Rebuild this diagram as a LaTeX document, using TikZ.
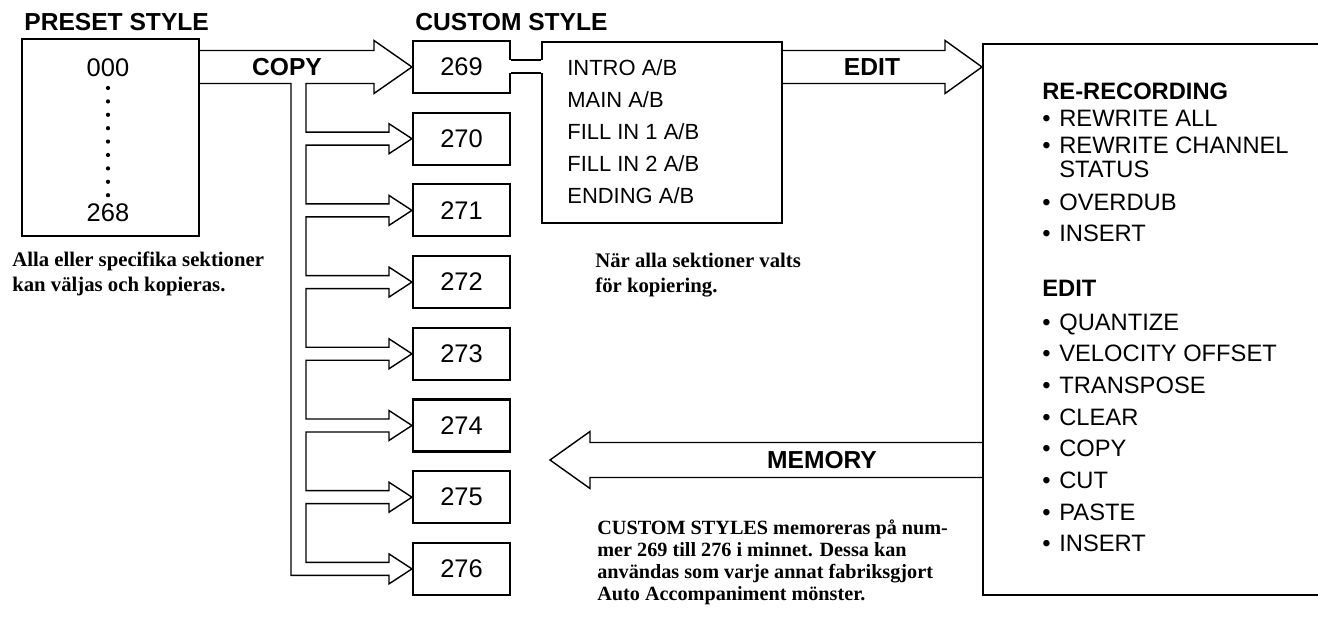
\documentclass[tikz,border=0pt]{standalone}
\usepackage{fontspec}
\setmainfont{Liberation Serif}
\setsansfont{Liberation Sans}
\usetikzlibrary{calc}

\begin{document}
\begin{tikzpicture}[
  x=0.02cm, y=-0.02cm,
  box/.style={rectangle, draw, line width=1.2pt, inner sep=0pt,
    font=\sffamily\fontsize{14.5}{16}\selectfont},
  numbox/.style={box, minimum width=1.94cm, minimum height=1.04cm},
  title/.style={font=\sffamily\bfseries\fontsize{14}{16}\selectfont, inner sep=0pt},
  item/.style={font=\sffamily\fontsize{13.5}{15}\selectfont, anchor=base west, inner sep=0pt},
  head/.style={font=\sffamily\bfseries\fontsize{13.5}{15}\selectfont, anchor=base west, inner sep=0pt},
  note/.style={font=\bfseries\fontsize{11.8}{14.2}\selectfont, align=left, anchor=west, inner sep=0pt},
  bigarrow/.style={draw, line width=0.8pt, line join=miter}
]
  \useasboundingbox (0,0) rectangle (1318,617);

  % preset side
  \node[title, anchor=west] (presettitle) at (24,22) {PRESET STYLE};
  \node[box, minimum width=3.54cm, minimum height=3.94cm] (preset) at (110.5,137.5) {};
  \node[font=\sffamily\fontsize{14.5}{16}\selectfont, inner sep=0pt] (first) at (108,68) {000};
  \node[font=\sffamily\fontsize{14.5}{16}\selectfont, inner sep=0pt] (last) at (108,213) {268};
  \foreach \i in {0,...,8}
    \fill ($(first)+(0,20+13.4*\i)$) circle (1.2pt);

  % custom styles
  \node[title, anchor=west] (customtitle) at (415,22) {CUSTOM STYLE};
  \node[numbox] (c269) at (461.5,67) {269};
  \foreach \k in {1,...,7} {
    \pgfmathtruncatemacro\n{269+\k}
    \node[numbox] (c\n) at (461.5,67+71.7*\k) {\n};
  }

  \node[box, minimum width=4.8cm, minimum height=3.62cm] (sections) at (662,132.5) {};
  \node[font=\sffamily\fontsize{12.5}{18.2}\selectfont, align=left, anchor=west, inner sep=0pt]
    (sectionlist) at (567,132) {INTRO A/B\\MAIN A/B\\FILL IN 1 A/B\\FILL IN 2 A/B\\ENDING A/B};

  % neck between 269 and the sections
  \fill[white] ($(c269.east)+(-3,-7)$) rectangle ($(sections.west |- c269.east)+(3,6)$);
  \draw[line width=1.2pt] ($(c269.east)+(-0.5,-7)$) -- ($(sections.west |- c269.east)+(0.5,-7)$)
    ($(c269.east)+(-0.5,6)$) -- ($(sections.west |- c269.east)+(0.5,6)$);

  % edit side
  \node[draw, line width=1.2pt, minimum width=7.4cm, minimum height=11.02cm, anchor=north west]
    (editbox) at (982,43) {};
  \node[head] (rerec) at (1042,100) {RE-RECORDING};
  \node[head] (edithead) at (1042,297) {EDIT};
  \foreach \y/\t in {118/REWRITE ALL, 145/REWRITE CHANNEL, 202/OVERDUB, 233/INSERT,
      322/QUANTIZE, 353/VELOCITY OFFSET, 385/TRANSPOSE, 417/CLEAR,
      448/COPY, 480/CUT, 512/PASTE, 543/INSERT}
    \node[item] (opt\y) at (1042,\y+8.5) {\makebox[0.34cm][l]{•}\t};
  \node[item] (status) at (1059,177.5) {STATUS};

  % copy arrows
  \draw[bigarrow]
    ($(preset.east |- c269.west)+(0,-16.5)$) -- ($(c269.west)+(-38,-16.5)$)
    -- ($(c269.west)+(-38,-26.5)$) -- (c269.west) -- ($(c269.west)+(-38,26.5)$)
    -- ($(c269.west)+(-38,16.5)$) -- ($(c269.west)+(-106,16.5)$)
    \foreach \n in {270,...,275} {
      -- ($(c\n.west)+(-106,-6.5)$) -- ($(c\n.west)+(-23,-6.5)$) -- ($(c\n.west)+(-23,-15)$)
      -- (c\n.west) -- ($(c\n.west)+(-23,15)$) -- ($(c\n.west)+(-23,6.5)$) -- ($(c\n.west)+(-106,6.5)$)
    }
    -- ($(c276.west)+(-106,-6.5)$) -- ($(c276.west)+(-23,-6.5)$) -- ($(c276.west)+(-23,-15)$)
    -- (c276.west) -- ($(c276.west)+(-23,15)$) -- ($(c276.west)+(-23,6.5)$) -- ($(c276.west)+(-121,6.5)$)
    -- ($(c269.west)+(-121,16.5)$) -- ($(preset.east |- c269.west)+(0,16.5)$);
  \node[title] (copylabel) at (287,67) {COPY};

  % edit arrow
  \draw[bigarrow]
    ($(sections.east |- c269.east)+(0,-16.5)$) -- ($(editbox.west |- c269.east)+(-37,-16.5)$)
    -- ($(editbox.west |- c269.east)+(-37,-26.5)$) -- (editbox.west |- c269.east)
    -- ($(editbox.west |- c269.east)+(-37,26.5)$) -- ($(editbox.west |- c269.east)+(-37,16.5)$)
    -- ($(sections.east |- c269.east)+(0,16.5)$);
  \node[title] (editlabel) at (872,67) {EDIT};

  % memory arrow
  \coordinate (memtip) at (550,460);
  \draw[bigarrow]
    ($(editbox.west |- memtip)+(0,-17.5)$) -- ($(memtip)+(40,-17.5)$) -- ($(memtip)+(40,-28.5)$)
    -- (memtip) -- ($(memtip)+(40,28.5)$) -- ($(memtip)+(40,17.5)$) -- ($(editbox.west |- memtip)+(0,17.5)$);
  \node[title] (memlabel) at (822,460) {MEMORY};

  % notes
  \node[note] (presetnote) at (12,274) {Alla eller specifika sektioner\\kan väljas och kopieras.};
  \node[note] (sectionnote) at (595,275) {När alla sektioner valts\\för kopiering.};
  \node[note, font=\bfseries\fontsize{11.5}{12.5}\selectfont] (memorynote) at (597,562)
    {CUSTOM STYLES memoreras på num-\\mer 269 till 276 i minnet. Dessa kan\\användas som varje annat fabriksgjort\\Auto Accompaniment mönster.};
\end{tikzpicture}
\end{document}
